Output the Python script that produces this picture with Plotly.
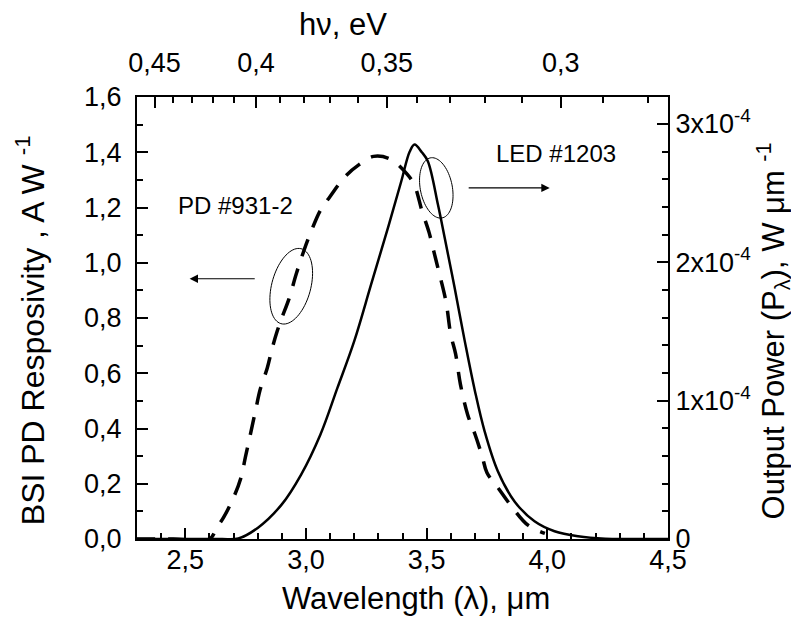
import numpy as np
import plotly.graph_objects as go

# ---------------- data ----------------
# Photodiode responsivity, A/W (left axis)
pd_wavelength = [2.30, 2.45, 2.60, 2.63, 2.66, 2.70, 2.73, 2.75, 2.77, 2.79, 2.81, 2.84,
                 2.86, 2.88, 2.90, 2.93, 2.96, 2.99, 3.02, 3.06, 3.10, 3.16, 3.22, 3.28,
                 3.35, 3.42, 3.45, 3.48, 3.51, 3.53, 3.55, 3.58, 3.60, 3.62, 3.64, 3.67,
                 3.70, 3.73, 3.75, 3.80, 3.85, 3.92, 3.99]
pd_responsivity = [0.0, 0.0, 0.0, 0.04, 0.08, 0.15, 0.22, 0.30, 0.38, 0.46, 0.54, 0.62,
                   0.69, 0.75, 0.80, 0.87, 0.96, 1.04, 1.11, 1.19, 1.24, 1.31, 1.355, 1.385,
                   1.375, 1.32, 1.28, 1.19, 1.11, 1.04, 0.97, 0.86, 0.74, 0.67, 0.56, 0.45,
                   0.38, 0.30, 0.24, 0.18, 0.12, 0.05, 0.02]

# LED output power, W/um (right axis)
led_wavelength = [2.30, 2.50, 2.65, 2.72, 2.80, 2.90, 2.98, 3.06, 3.13, 3.20, 3.27, 3.34,
                  3.395, 3.43, 3.45, 3.48, 3.505, 3.547, 3.575, 3.616, 3.658, 3.70, 3.74,
                  3.795, 3.865, 3.947, 4.03, 4.127, 4.24, 4.35, 4.50]
led_power = [0.0, 0.0, 0.0, 0.004e-4, 0.08e-4, 0.25e-4, 0.465e-4, 0.755e-4, 1.09e-4, 1.43e-4,
             1.84e-4, 2.25e-4, 2.585e-4, 2.80e-4, 2.85e-4, 2.795e-4, 2.73e-4, 2.415e-4,
             2.175e-4, 1.815e-4, 1.43e-4, 1.07e-4, 0.78e-4, 0.49e-4, 0.27e-4, 0.128e-4,
             0.056e-4, 0.02e-4, 0.002e-4, 0.0, 0.0]

# tick labels
x_tickvals = [2.5, 3.0, 3.5, 4.0, 4.5]
x_ticktext = ["2,5", "3,0", "3,5", "4,0", "4,5"]
y_tickvals = [0.0, 0.2, 0.4, 0.6, 0.8, 1.0, 1.2, 1.4, 1.6]
y_ticktext = ["0,0", "0,2", "0,4", "0,6", "0,8", "1,0", "1,2", "1,4", "1,6"]
y2_tickvals = [0.0, 1e-4, 2e-4, 3e-4]
y2_ticktext = ["0", "1x10<sup>-4</sup>", "2x10<sup>-4</sup>", "3x10<sup>-4</sup>"]
energy_major = [0.45, 0.40, 0.35, 0.30]
energy_text = ["0,45", "0,4", "0,35", "0,3"]
energy_minor = [0.44, 0.43, 0.42, 0.41, 0.39, 0.38, 0.37, 0.36, 0.34, 0.33, 0.32, 0.31, 0.29, 0.28]

# ---------------- axis geometry ----------------
X_RANGE = [2.3, 4.5]
Y_RANGE = [0.0, 1.6]
Y2_RANGE = [0.0, 3.194e-4]
# top energy scale as drawn in the original (wavelength position of each energy tick)
TOP_A, TOP_B = -0.994, 1.515


def e_to_lam(e):
    return TOP_A + TOP_B / e


FONT = "Liberation Sans, Arial, Helvetica, sans-serif"
TICKFONT = dict(family=FONT, size=27, color="black")

fig = go.Figure()
fig.add_trace(go.Scatter(x=pd_wavelength, y=pd_responsivity, mode="lines", line_shape="spline",
                         line=dict(color="black", width=3.5, dash="18px,13px"),
                         showlegend=False, hoverinfo="skip"))
fig.add_trace(go.Scatter(x=led_wavelength, y=led_power, mode="lines", line_shape="spline",
                         line=dict(color="black", width=2.5), yaxis="y2",
                         showlegend=False, hoverinfo="skip"))
fig.add_trace(go.Scatter(x=[X_RANGE[0]], y=[Y_RANGE[0]], xaxis="x2", mode="markers",
                         marker=dict(opacity=0), showlegend=False, hoverinfo="skip"))

common = dict(showgrid=False, zeroline=False, showline=True, linecolor="black", linewidth=2,
              ticks="inside", ticklen=11, tickwidth=1.5, tickcolor="black", tickfont=TICKFONT)
MINOR = dict(ticks="inside", ticklen=6, tickwidth=1.5, tickcolor="black")

fig.update_layout(
    width=799, height=621,
    margin=dict(l=129, r=139, t=89, b=90),
    paper_bgcolor="white", plot_bgcolor="white",
    font=dict(family=FONT, color="black"),
    xaxis=dict(range=X_RANGE, tickmode="array", tickvals=x_tickvals, ticktext=x_ticktext,
               ticklabelstandoff=-4,
               minor=dict(tickmode="array", tickvals=list(np.round(np.arange(2.3, 4.5001, 0.1), 2)), **MINOR),
               **common),
    xaxis2=dict(range=X_RANGE, overlaying="x", side="top", anchor="y", tickmode="array",
                tickvals=[e_to_lam(e) for e in energy_major], ticktext=energy_text,
                ticklabelstandoff=12,
                minor=dict(tickmode="array", tickvals=[e_to_lam(e) for e in energy_minor], **MINOR),
                **common),
    yaxis=dict(range=Y_RANGE, tickmode="array", tickvals=y_tickvals, ticktext=y_ticktext,
               ticklabelstandoff=8,
               minor=dict(tickmode="array", tickvals=list(np.round(np.arange(0.1, 1.6, 0.2), 2)), **MINOR),
               **common),
    yaxis2=dict(range=Y2_RANGE, overlaying="y", side="right", anchor="x", tickmode="array",
                tickvals=y2_tickvals, ticktext=y2_ticktext,
                minor=dict(tickmode="array", tickvals=[k * 0.2e-4 for k in range(1, 16) if k % 5], **MINOR),
                **common),
)

# ---------------- axis titles ----------------
TITLE = dict(family=FONT, size=31, color="black")
fig.add_annotation(text="Wavelength (λ), μm", xref="paper", yref="paper", x=0.525, y=-0.134,
                   xanchor="center", yanchor="middle", showarrow=False, font=TITLE)
fig.add_annotation(text="hν, eV", xref="paper", yref="paper", x=0.388, y=1.163,
                   xanchor="center", yanchor="middle", showarrow=False, font=TITLE)
fig.add_annotation(text="BSI PD Resposivity , A W <sup>-1</sup>", xref="paper", yref="paper",
                   x=-0.201, y=0.473, xanchor="center", yanchor="middle", textangle=-90,
                   showarrow=False, font=dict(family=FONT, size=32, color="black"))
fig.add_annotation(text="Output Power (P<sub>λ</sub>), W μm <sup>-1</sup>", xref="paper", yref="paper",
                   x=1.198, y=0.47, xanchor="center", yanchor="middle", textangle=-90,
                   showarrow=False, font=TITLE)

# ---------------- in-plot labels, arrows, ellipses ----------------
LBL = dict(family=FONT, size=24, color="black")
fig.add_annotation(text="PD #931-2", x=2.710, y=1.209, xref="x", yref="y", showarrow=False, font=LBL)
fig.add_annotation(text="LED #1203", x=4.034, y=1.394, xref="x", yref="y", showarrow=False, font=LBL)
fig.add_annotation(x=2.518, y=0.942, ax=2.794, ay=0.942, xref="x", yref="y", axref="x", ayref="y",
                   showarrow=True, arrowhead=2, arrowsize=1.4, arrowwidth=1.2, arrowcolor="black", text="")
fig.add_annotation(x=4.010, y=1.271, ax=3.668, ay=1.271, xref="x", yref="y", axref="x", ayref="y",
                   showarrow=True, arrowhead=2, arrowsize=1.4, arrowwidth=1.2, arrowcolor="black", text="")

PX_PER_X = 531 / (X_RANGE[1] - X_RANGE[0])
PX_PER_Y = 442 / (Y_RANGE[1] - Y_RANGE[0])


def ellipse_path(cx, cy, a, b, theta_deg):
    th = np.radians(theta_deg)
    t = np.linspace(0, 2 * np.pi, 80)
    dx = b * np.cos(t) * np.cos(th) + a * np.sin(t) * np.sin(th)
    dy = -b * np.cos(t) * np.sin(th) + a * np.sin(t) * np.cos(th)
    xs = cx + dx / PX_PER_X
    ys = cy + dy / PX_PER_Y
    return "M " + " L ".join(f"{x:.5f},{y:.5f}" for x, y in zip(xs, ys)) + " Z"


fig.add_shape(type="path", path=ellipse_path(2.939, 0.915, 38.8, 19.5, 15), xref="x", yref="y",
              line=dict(color="black", width=1))
fig.add_shape(type="path", path=ellipse_path(3.540, 1.271, 30.6, 16, -11), xref="x", yref="y",
              line=dict(color="black", width=1))

fig.write_html("out.html")
